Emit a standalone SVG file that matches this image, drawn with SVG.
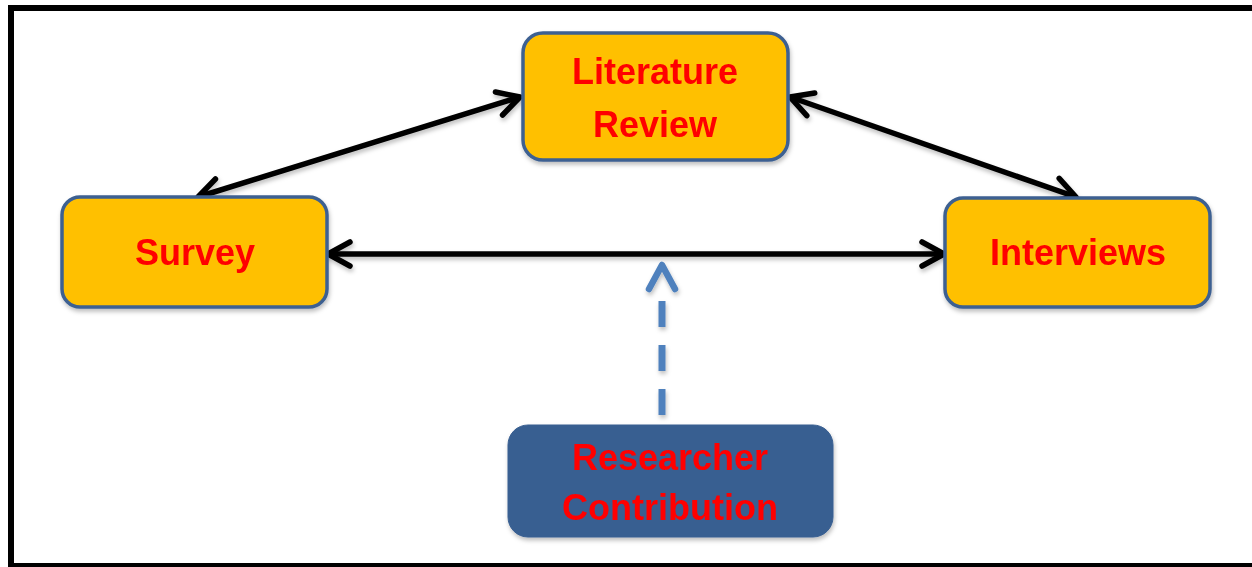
<svg xmlns="http://www.w3.org/2000/svg" width="1252" height="567" viewBox="0 0 1252 567">
<style>
.box{fill:#FFC000;stroke:#3D6091;stroke-width:3.5}
.dark{fill:#395F91;stroke:#395F91;stroke-width:1}
.lbl{font-family:"Liberation Sans",Arial,sans-serif;font-weight:bold;font-size:36px;fill:#FF0000;text-anchor:middle}
.conn{fill:none;stroke:#000;stroke-width:5.5}
.dash{fill:none;stroke:#4F81BD;stroke-width:7;stroke-dasharray:26 18}
</style>
<defs>
<marker id="chev" markerUnits="userSpaceOnUse" viewBox="-30 -20 36 40" refX="0" refY="0" markerWidth="36" markerHeight="40" orient="auto-start-reverse">
<path d="M -22 -12 L 0 0 L -22 12" fill="none" stroke="#000" stroke-width="5.5" stroke-linecap="round" stroke-linejoin="round"/>
</marker>
<filter id="sh" x="-10%" y="-10%" width="130%" height="140%">
<feDropShadow dx="1" dy="3" stdDeviation="2" flood-color="#000" flood-opacity="0.25"/>
</filter>
</defs>
<rect x="11" y="8" width="1244" height="558" fill="#fff" stroke="#000" stroke-width="6"/>
<g id="connectors" filter="url(#sh)">
<line class="conn" x1="328" y1="254" x2="944" y2="254" marker-start="url(#chev)" marker-end="url(#chev)"/>
<line class="conn" x1="520" y1="97" x2="198" y2="197" marker-start="url(#chev)" marker-end="url(#chev)"/>
<line class="conn" x1="790" y1="97" x2="1076" y2="197" marker-start="url(#chev)" marker-end="url(#chev)"/>
<line class="dash" x1="662" y1="415" x2="662" y2="300"/>
<path d="M 649 289 L 662 265 L 675 289" fill="none" stroke="#4F81BD" stroke-width="6.5" stroke-linecap="round" stroke-linejoin="round"/>
</g>
<g id="literature-review" filter="url(#sh)">
<rect class="box" x="523" y="33" width="265" height="127" rx="20"/>
<text class="lbl" x="655" y="84">Literature</text>
<text class="lbl" x="655" y="137">Review</text>
</g>
<g id="survey" filter="url(#sh)">
<rect class="box" x="62" y="197" width="265" height="110" rx="18"/>
<text class="lbl" x="195" y="265">Survey</text>
</g>
<g id="interviews" filter="url(#sh)">
<rect class="box" x="945" y="198" width="265" height="109" rx="18"/>
<text class="lbl" x="1078" y="265">Interviews</text>
</g>
<g id="researcher-contribution" filter="url(#sh)">
<rect class="dark" x="508" y="425" width="325" height="112" rx="20"/>
<text class="lbl" x="670" y="470">Researcher</text>
<text class="lbl" x="670" y="520">Contribution</text>
</g>
</svg>
